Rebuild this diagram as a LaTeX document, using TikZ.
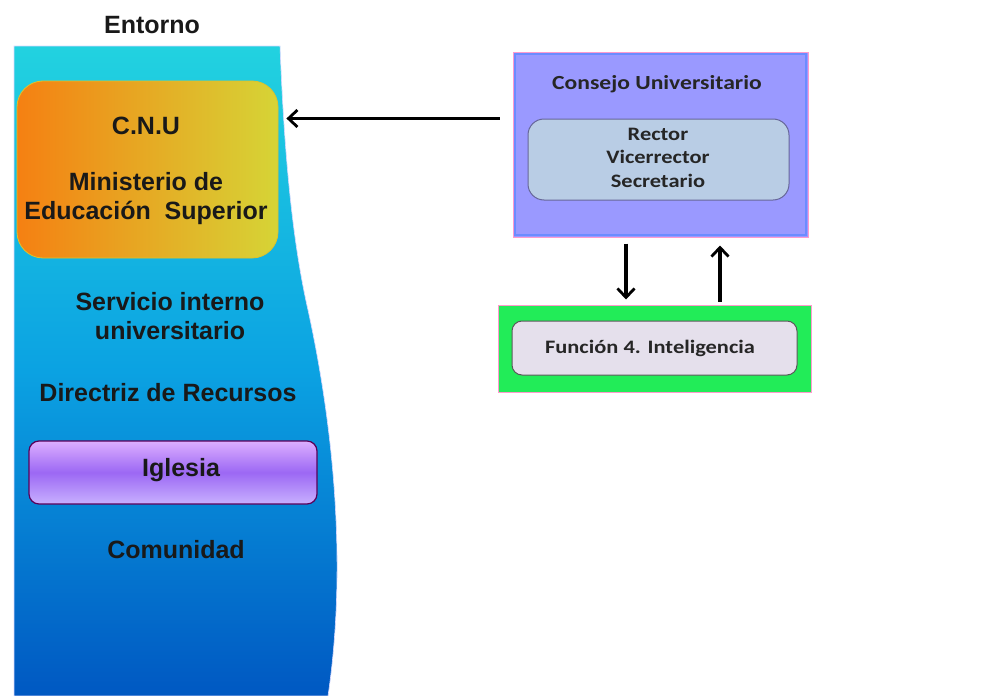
\documentclass[tikz,border=0pt]{standalone}
\usepackage{fontspec}
\setmainfont{Liberation Sans}
\newfontfamily\calib[FakeStretch=1.18]{Carlito}
\usetikzlibrary{arrows.meta}
\definecolor{envtop}{HTML}{22D2E0}
\definecolor{envmid}{HTML}{0BA2E2}
\definecolor{envbot}{HTML}{0058C2}
\definecolor{cnuL}{HTML}{F58012}
\definecolor{cnuR}{HTML}{D6D436}
\definecolor{igtop}{HTML}{DCAEFF}
\definecolor{igmid}{HTML}{9C68F4}
\definecolor{igbot}{HTML}{C8B0FF}
\definecolor{consejo}{HTML}{9A99FF}
\definecolor{consedge}{HTML}{6C8CFF}
\definecolor{pinkedge}{HTML}{FF9ACD}
\definecolor{rectorfill}{HTML}{B9CDE5}
\definecolor{funcgreen}{HTML}{22EC58}
\definecolor{funcfill}{HTML}{E5E0EC}
\tikzset{
  big/.style={font=\bfseries\fontsize{25}{29}\selectfont, align=center, text=black!90},
  small/.style={font=\calib\bfseries\fontsize{19}{23.5}\selectfont, align=center, text=black!85},
  arr/.style={line width=3.4pt, -{Straight Barb[length=9pt,width=17pt,line width=2.8pt]}},
  boxrect/.style={rectangle, inner sep=0pt},
}
\begin{document}
\begin{tikzpicture}[x=1pt,y=-1pt]
\useasboundingbox[fill=white] (0,0) rectangle (994,696);

% environment band with curved right edge
\shade[top color=envtop, bottom color=envbot, middle color=envmid, draw=white!85!blue, line width=0.6pt]
  (14,46) -- (280,46) .. controls (284,150) and (292,240) .. (308,310)
  .. controls (332,420) and (348,560) .. (328,696) -- (14,696) -- cycle;

\node[big] (entorno) at (152,25) {Entorno};

% C.N.U box
\node[boxrect, minimum width=261pt, minimum height=177pt, rounded corners=26pt,
      left color=cnuL, right color=cnuR, draw=cnuR!80!orange, line width=0.8pt] (cnu) at (147.5,169.5) {};
\node[big] (cnut) at (146,126) {C.N.U};
\node[big] (mes) at (146,199) {Ministerio de\\Educación\ \ Superior};

\node[big] (serv) at (170,316.5) {Servicio interno\\universitario};
\node[big] (dir) at (168,393) {Directriz de Recursos};

% Iglesia box
\node[boxrect, minimum width=288pt, minimum height=63pt, rounded corners=10pt,
      top color=igtop, bottom color=igbot, middle color=igmid, draw=violet!70!black, line width=1.2pt] (igl) at (173,472.5) {};
\node[big] (iglt) at (181,470) {Iglesia};

\node[big] (com) at (176,550) {Comunidad};

% Consejo Universitario
\node[boxrect, minimum width=295pt, minimum height=185pt, fill=consejo, draw=pinkedge, line width=1pt] (cons) at (660.5,144.5) {};
\draw[consedge, line width=2.5pt] ([shift={(2.5pt,2.5pt)}]cons.south west) rectangle ([shift={(-2.5pt,-2.5pt)}]cons.north east);
\node[small, font=\calib\bfseries\fontsize{20}{24}\selectfont] (const) at (657,84) {Consejo Universitario};
\node[boxrect, minimum width=261pt, minimum height=81pt, rounded corners=16pt,
      fill=rectorfill, draw=gray!80!blue, line width=1pt] (rect) at (658.5,159.5) {};
\node[small] (rectt) at (658,157.5) {Rector\\Vicerrector\\Secretario};

% Funcion 4
\node[boxrect, minimum width=313pt, minimum height=87pt, fill=funcgreen, draw=pinkedge, line width=1pt] (func) at (654.5,348.5) {};
\node[boxrect, minimum width=285pt, minimum height=54pt, rounded corners=10pt,
      fill=funcfill, draw=gray!70!black, line width=1pt] (funci) at (654.5,348) {};
\node[small] (funct) at (650,348) {Función 4. Inteligencia};

% connectors
\draw[arr] ([xshift=-13pt]cons.west |- rect.north) -- ([xshift=8pt]cnu.east |- rect.north);
\draw[arr] ([yshift=-6pt]cons.south -| 626,0) -- ([yshift=5pt]func.north -| 626,0);
\draw[arr] ([yshift=3pt]func.north -| 720,0) -- ([yshift=-8pt]cons.south -| 720,0);
\end{tikzpicture}
\end{document}
